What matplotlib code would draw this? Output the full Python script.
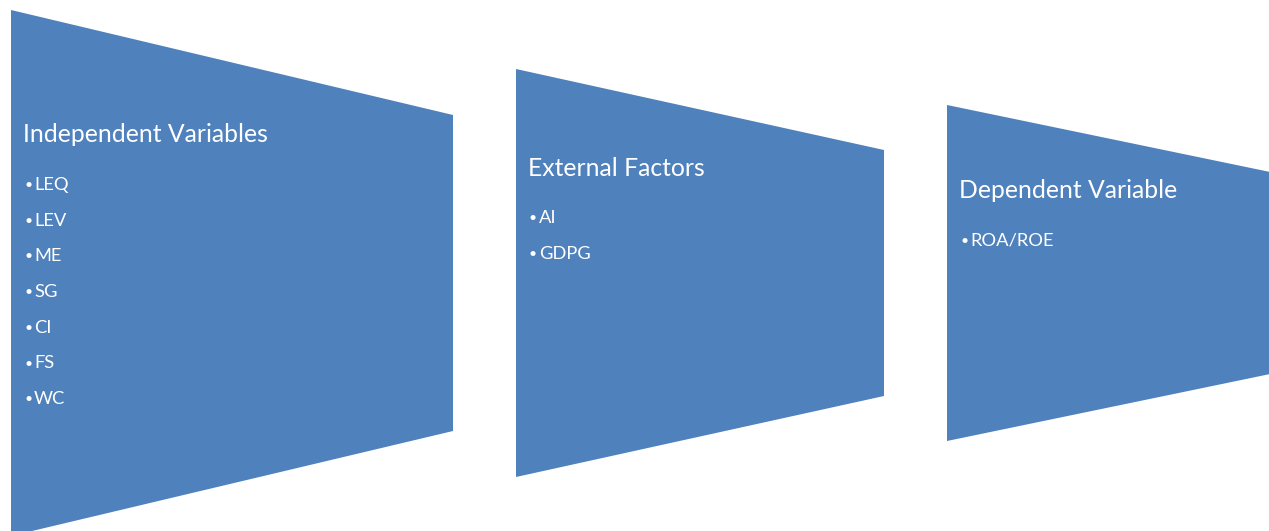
import matplotlib.pyplot as plt
from matplotlib.patches import Polygon

# three stages of the model, left to right
titles = ['Independent Variables', 'External Factors', 'Dependent Variable']
items = [
    ['LEQ', 'LEV', 'ME', 'SG', 'CI', 'FS', 'WC'],
    ['AI', 'GDPG'],
    ['ROA/ROE'],
]

# trapezoid outlines in pixel coords: (x_left, half-height left, x_right, half-height right)
shapes = [
    (11, 263, 453, 158),
    (516, 204, 884, 123),
    (947, 168, 1275, 100),
]
mid_y = 273
title_y = [134, 169, 191]
item_y0 = [185, 218, 241]
item_step = 35.7

BLUE = '#4F81BD'
FONT = ['Lato', 'DejaVu Sans']

fig = plt.figure(figsize=(12.69, 5.31), dpi=100)
ax = fig.add_axes([0, 0, 1, 1])
ax.set_xlim(0, 1269)
ax.set_ylim(531, 0)
ax.axis('off')

for i, (x0, h0, x1, h1) in enumerate(shapes):
    pts = [(x0, mid_y - h0), (x1, mid_y - h1), (x1, mid_y + h1), (x0, mid_y + h0)]
    ax.add_patch(Polygon(pts, closed=True, facecolor=BLUE, edgecolor='none'))
    ax.text(x0 + 12, title_y[i], titles[i], color='white', fontsize=17.8,
            family=FONT, va='center', ha='left')
    for j, name in enumerate(items[i]):
        y = item_y0[i] + j * item_step
        ax.text(x0 + 13, y, '\u2022', color='white', fontsize=10,
                family=FONT, va='center', ha='left')
        ax.text(x0 + 23, y, name, color='white', fontsize=13.2,
                family=FONT, va='center', ha='left')

fig.savefig('out.png', dpi=100)
